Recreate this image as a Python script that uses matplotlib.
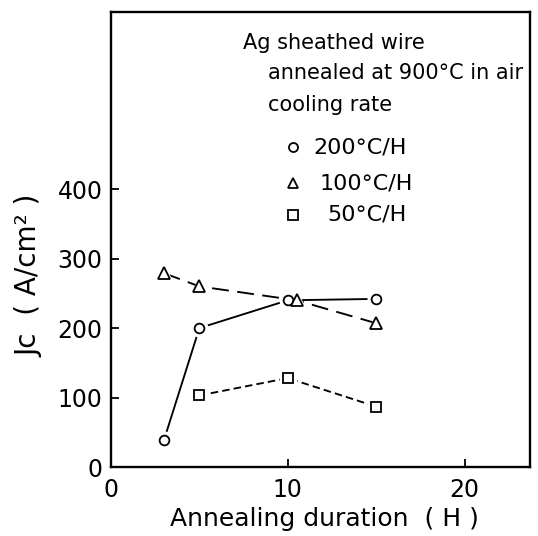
import matplotlib
matplotlib.use('Agg')
import matplotlib.pyplot as plt

# Jc vs annealing duration for three cooling rates
hours_200 = [3, 5, 10, 15]
jc_200 = [39, 200, 240, 242]

hours_100 = [3, 5, 10.5, 15]
jc_100 = [279, 260, 240, 207]

hours_50 = [5, 10, 15]
jc_50 = [103, 128, 87]

xticks = [0, 10, 20]
yticks = [0, 100, 200, 300, 400]

series = [
    (hours_200, jc_200, 'o', '-', None, '200\u00b0C/H'),
    (hours_100, jc_100, '^', '--', (9, 4.5), '100\u00b0C/H'),
    (hours_50, jc_50, 's', '--', (4, 2.2), '50\u00b0C/H'),
]

fig = plt.figure(figsize=(5.38, 5.36), dpi=100)
ax = fig.add_axes([0.2063, 0.1287, 0.7787, 0.8489])

# lines first
for xs, ys, mk, ls, dash, lab in series:
    line, = ax.plot(xs, ys, color='black', lw=1.35, ls=ls, zorder=2)
    if dash is not None:
        line.set_dashes(dash)

# white halo so lines stop short of the markers
for xs, ys, mk, ls, dash, lab in series:
    ax.plot(xs, ys, ls='none', marker=mk, ms=12, mfc='white', mec='white', zorder=3)

for xs, ys, mk, ls, dash, lab in series:
    ms = 8.5 if mk == '^' else 7
    ax.plot(xs, ys, ls='none', marker=mk, ms=ms, mfc='white', mec='black', mew=1.3, zorder=4)

ax.set_xlim(0, 23.7)
ax.set_ylim(0, 655)
ax.set_xticks(xticks)
ax.set_yticks(yticks)
ax.tick_params(direction='in', length=6, width=1.3, labelsize=17, pad=6)
ax.tick_params(axis='x', pad=8)
for s in ax.spines.values():
    s.set_linewidth(1.7)

ax.set_xlabel('Annealing duration  ( H )', fontsize=18)
ax.xaxis.set_label_coords(0.51, -0.088)
ax.set_ylabel('Jc  ( A/cm\u00b2 )', fontsize=20)
ax.yaxis.set_label_coords(-0.162, 0.42)

# annotation block
ax.text(0.315, 0.932, 'Ag sheathed wire', transform=ax.transAxes, fontsize=15, va='center')
ax.text(0.375, 0.866, 'annealed at 900\u00b0C in air', transform=ax.transAxes, fontsize=15, va='center')
ax.text(0.375, 0.796, 'cooling rate', transform=ax.transAxes, fontsize=15, va='center')

leg_y = [0.703, 0.624, 0.554]
leg_tx = [0.482, 0.499, 0.516]
for (xs, ys, mk, ls, dash, lab), ly, tx in zip(series, leg_y, leg_tx):
    ms = 7.5 if mk == '^' else 6.5
    ax.plot([0.434], [ly], transform=ax.transAxes, ls='none', marker=mk, ms=ms,
            mfc='white', mec='black', mew=1.3)
    ax.text(tx, ly, lab, transform=ax.transAxes, fontsize=16, va='center')

fig.savefig('out.png', dpi=100)
